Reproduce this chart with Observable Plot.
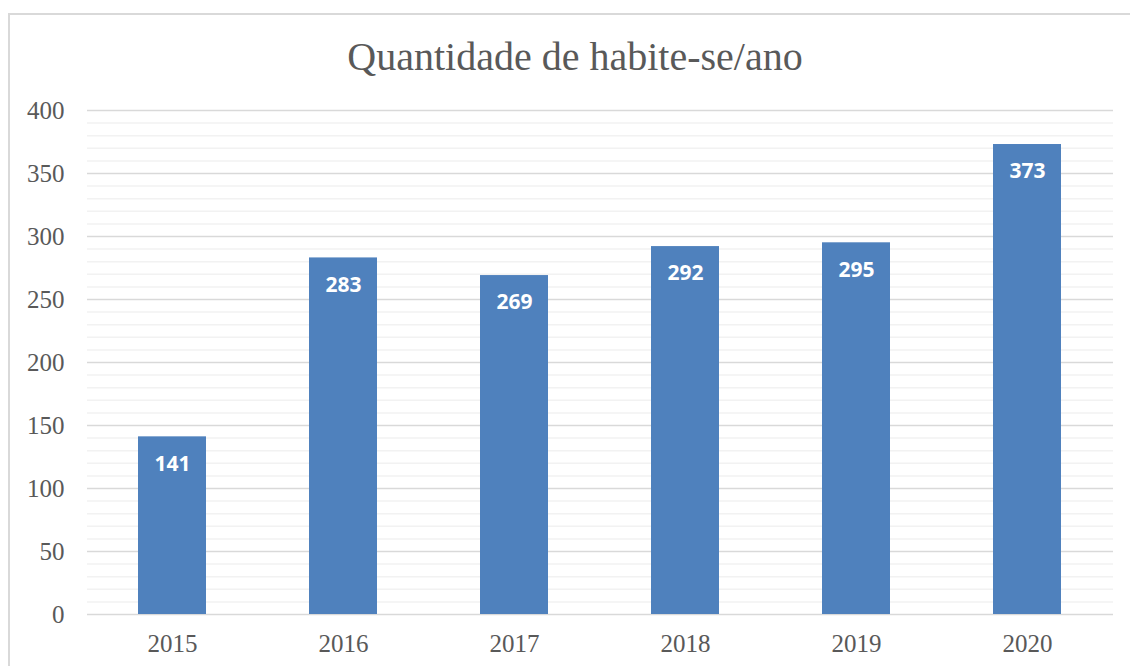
<!DOCTYPE html>
<html>
<head>
<meta charset="utf-8">
<script src="https://cdn.jsdelivr.net/npm/d3@7"></script>
<script src="https://cdn.jsdelivr.net/npm/@observablehq/plot@0.6"></script>
<style>
  html, body { margin: 0; padding: 0; background: #fff; overflow: hidden; width: 1130px; height: 666px; }
  #frame { position: absolute; left: 8px; top: 13px; width: 1300px; height: 900px;
           border-left: 2px solid #d9d9d9; border-top: 2px solid #d9d9d9; box-sizing: border-box; }
  #title { position: absolute; top: 37px; left: 0; width: 1150px; text-align: center;
           font-family: "Liberation Serif", serif; font-size: 40px; line-height: 40px; color: #595959; }
  #chart { position: absolute; left: 0; top: 90px; }
</style>
</head>
<body>
<div id="frame"></div>
<div id="title">Quantidade de habite-se/ano</div>
<div id="chart"></div>
<script>
const years = ["2015", "2016", "2017", "2018", "2019", "2020"];
const values = [141, 283, 269, 292, 295, 373];
const yTicks = [0, 50, 100, 150, 200, 250, 300, 350, 400];
const minorTicks = [10, 20, 30, 40, 60, 70, 80, 90, 110, 120, 130, 140, 160, 170, 180, 190,
  210, 220, 230, 240, 260, 270, 280, 290, 310, 320, 330, 340, 360, 370, 380, 390];

const data = years.map((year, i) => ({year, value: values[i]}));

const chart = Plot.plot({
  width: 1130,
  height: 576,
  marginTop: 20,
  marginBottom: 52,
  marginLeft: 87,
  marginRight: 17,
  x: {domain: years, paddingInner: 0.6, paddingOuter: 0.3, label: null, tickSize: 0, tickPadding: 20},
  y: {domain: [0, 400], ticks: yTicks, label: null, tickSize: 0, tickPadding: 23},
  style: {fontFamily: "Liberation Serif", fontSize: "25px", color: "#595959", background: "transparent", overflow: "visible"},
  marks: [
    Plot.ruleY(minorTicks, {stroke: "#f2f2f2", strokeWidth: 1.5}),
    Plot.ruleY(yTicks, {stroke: "#d9d9d9", strokeWidth: 1.5}),
    Plot.barY(data, {x: "year", y: "value", fill: "#4f81bd"}),
    Plot.text(data, {x: "year", y: "value", text: d => String(d.value), dy: 27, fill: "white",
      fontWeight: "bold", fontFamily: "Noto Sans", fontSize: 21})
  ]
});
document.getElementById("chart").appendChild(chart);
</script>
</body>
</html>
